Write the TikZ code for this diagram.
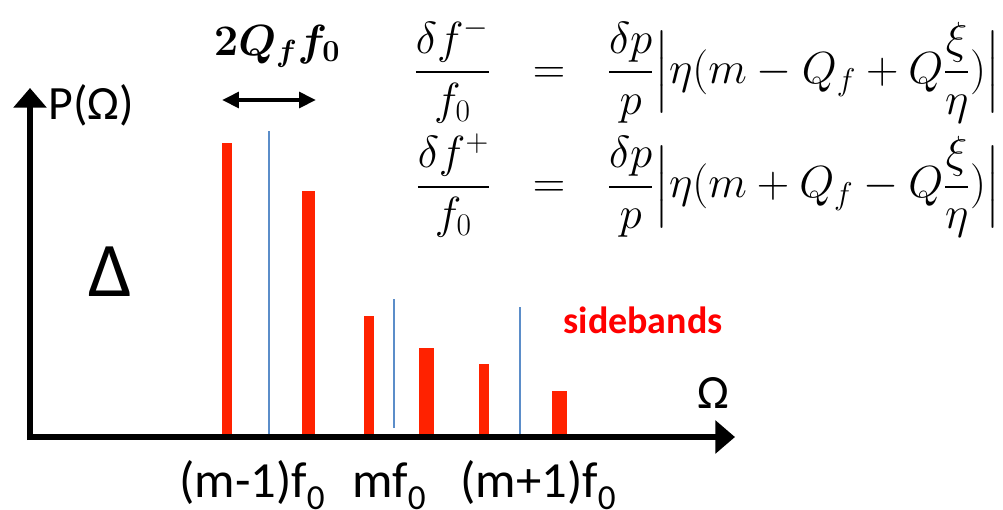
\RequirePackage{fix-cm}
\documentclass[tikz,border=0pt]{standalone}
\usepackage{amsmath,amssymb}
\usepackage{xcolor}
\usepackage[no-math]{fontspec}
\setmainfont{Carlito}
\usetikzlibrary{arrows.meta,positioning,calc}
\definecolor{barred}{RGB}{255,34,0}
\definecolor{lineblue}{RGB}{91,141,201}
\newcommand{\lowsub}[1]{\raisebox{-9pt}{\fontsize{25}{25}\selectfont #1}}

\begin{document}
\begin{tikzpicture}[x=0.025cm, y=-0.025cm,
    axis/.style={line width=3.6pt, -{Triangle[length=14pt, width=23pt]}},
    span/.style={line width=2.8pt, {Triangle[length=12pt, width=11pt]}-{Triangle[length=12pt, width=11pt]}},
    bar/.style={fill=barred},
    centre/.style={draw=lineblue, line width=1.4pt},
    lbl/.style={inner sep=0pt, font=\fontsize{34}{40}\selectfont}]
    \useasboundingbox (0,0) rectangle (1003,509);
    % ---- sidebands : left/right/top
    \foreach \l/\r/\t in {222/232/143, 302/315/191, 364/374/316,
                         419/434/348, 479/489/364, 552/567/391}
      { \fill[bar] (\l,437) rectangle (\r,\t); }
    % ---- revolution lines
    \foreach \x/\t/\b in {269/131/437, 394/299/428, 520/307/437}
      { \draw[centre] (\x,\b) -- (\x,\t); }
    % ---- axes
    \coordinate (o)  at (30,437);
    \coordinate (py) at (30,88);
    \coordinate (px) at (735,437);
    \draw[axis] ($(o)+(-3,0)$) -- (px);
    \draw[axis] ($(o)+(0,3)$) -- (py);
    \node[lbl, anchor=west] (pw) at (48,105) {P(Ω)};
    \node[lbl] (om) at (713,393) {Ω};
    \node[inner sep=0pt, font=\fontsize{55}{60}\selectfont] (dl) at (110,272) {Δ};
    \node[inner sep=0pt, text=red, font=\bfseries\fontsize{27}{32}\selectfont] (sb) at (643,320) {sidebands};
    % ---- frequencies under the axis
    \node[lbl, anchor=base, font=\fontsize{36}{40}\selectfont] (m1) at (252,497) {(m-1)f\lowsub{0}};
    \node[lbl, anchor=base, font=\fontsize{36}{40}\selectfont] (m0) at (389,497) {mf\lowsub{0}};
    \node[lbl, anchor=base, font=\fontsize{36}{40}\selectfont] (m2) at (538,497) {(m+1)f\lowsub{0}};
    % ---- tune spread width
    \coordinate (wl) at (222,100);
    \coordinate (wr) at (316,100);
    \draw[span] (wl) -- (wr);
    \node[inner sep=0pt, anchor=base, font=\fontsize{31}{36}\selectfont] (qf) at (277,55) {$\boldsymbol{2Q_ff_0}$};
    % ---- shifts of the sidebands
    \node[inner sep=0pt, anchor=west, font=\fontsize{32}{35}\selectfont] (eq) at (414,128)
      {$\arraycolsep=15pt\begin{array}{@{}rcl@{}}
        \dfrac{\delta f^-}{f_0} & = & \dfrac{\delta p}{p}\Bigl|\eta(m-Q_f+Q\dfrac{\xi}{\eta})\Bigr| \\[25pt]
        \dfrac{\delta f^+}{f_0} & = & \dfrac{\delta p}{p}\Bigl|\eta(m+Q_f-Q\dfrac{\xi}{\eta})\Bigr|
      \end{array}$};
\end{tikzpicture}
\end{document}
